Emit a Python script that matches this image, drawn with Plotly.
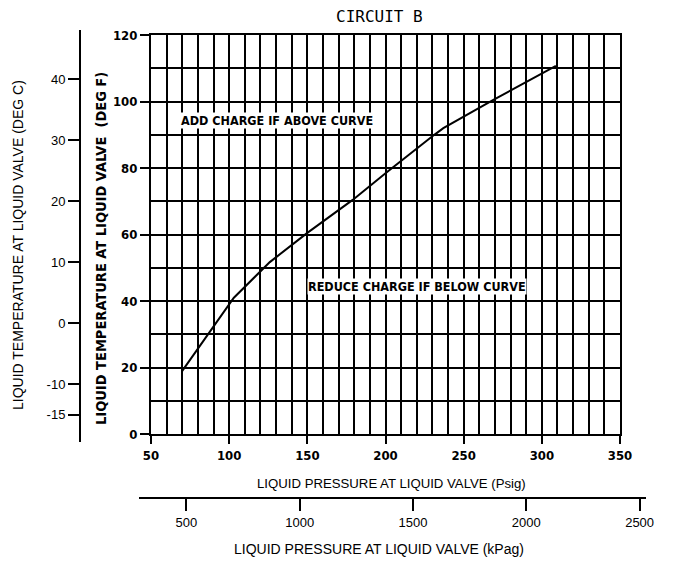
import plotly.graph_objects as go

# ---- data ----
pressure_psig = [70, 103, 126, 150, 179, 201, 231, 237, 269, 309]
temperature_degf = [19, 41, 51.7, 60.5, 70.4, 78.8, 89.9, 92, 100.5, 110.7]

psig_ticks = [50, 100, 150, 200, 250, 300, 350]
degf_ticks = [0, 20, 40, 60, 80, 100, 120]
degc_ticks = [-15, -10, 0, 10, 20, 30, 40]
kpag_ticks = [500, 1000, 1500, 2000, 2500]

title_text = "CIRCUIT B"
above_text = "ADD CHARGE IF ABOVE CURVE"
below_text = "REDUCE CHARGE IF BELOW CURVE"
above_pos = (130.4, 94.4)
below_pos = (220, 44.5)

OFF = 8  # page body margin
W, H = 675 - OFF, 564 - OFF
def fx(px):
    return (px - OFF) / W
def fy(py):
    return 1 - (py - OFF) / H

bold_font = "DejaVu Sans Condensed, Liberation Sans Narrow, DejaVu Sans"
plain_font = "Liberation Sans, Arial"

fig = go.Figure()
fig.add_trace(go.Scatter(x=pressure_psig, y=temperature_degf, mode="lines",
                         line=dict(color="black", width=2), showlegend=False,
                         hoverinfo="skip"))
# anchor traces for the secondary scales (paired with hidden helper axes)
fig.add_trace(go.Scatter(x=[None], y=[None], xaxis="x3", yaxis="y2", showlegend=False,
                         hoverinfo="skip"))
fig.add_trace(go.Scatter(x=[None], y=[None], xaxis="x2", yaxis="y3", showlegend=False,
                         hoverinfo="skip"))

fig.update_layout(
    width=W, height=H,
    margin=dict(l=0, r=0, t=0, b=0, pad=0, autoexpand=False),
    paper_bgcolor="white", plot_bgcolor="rgba(0,0,0,0)",
    showlegend=False,
    xaxis=dict(
        domain=[fx(151), fx(620)], range=[50, 350],
        tickmode="array", tickvals=psig_ticks, ticktext=[str(v) for v in psig_ticks],
        ticks="outside", ticklen=8, tickwidth=2, tickcolor="black",
        showgrid=True, gridcolor="black", gridwidth=2,
        minor=dict(tick0=50, dtick=10, showgrid=True, gridcolor="black", gridwidth=2),
        showline=True, linecolor="black", linewidth=2, mirror=True,
        tickfont=dict(family=bold_font, size=13, color="black", weight="bold"),
        zeroline=False, anchor="y", automargin=False,
    ),
    yaxis=dict(
        domain=[fy(434), fy(35)], range=[0, 120],
        tickmode="array", tickvals=degf_ticks, ticktext=[str(v) for v in degf_ticks],
        ticks="outside", ticklen=9, tickwidth=2, tickcolor="black",
        showgrid=True, gridcolor="black", gridwidth=2,
        minor=dict(tick0=0, dtick=10, showgrid=True, gridcolor="black", gridwidth=2),
        showline=True, linecolor="black", linewidth=2, mirror=True,
        tickfont=dict(family=bold_font, size=13, color="black", weight="bold"),
        zeroline=False, anchor="x", automargin=False,
    ),
    yaxis2=dict(
        domain=[fy(442), fy(30)], range=[(323 - 442) / 6.1, (323 - 30) / 6.1],
        anchor="free", position=fx(80), side="left",
        tickmode="array", tickvals=degc_ticks, ticktext=[str(v) for v in degc_ticks],
        ticks="outside", ticklen=11, tickwidth=2, tickcolor="black",
        showline=True, linecolor="black", linewidth=2,
        showgrid=False, zeroline=False, automargin=False,
        tickfont=dict(family=plain_font, size=13, color="black"),
    ),
    xaxis3=dict(domain=[fx(60), fx(80)], range=[0, 1], visible=False, anchor="y2"),
    xaxis2=dict(
        domain=[fx(139), fx(646)], range=[(139 - 73.1) / 0.2266, (646 - 73.1) / 0.2266],
        anchor="free", position=fy(498), side="bottom",
        tickmode="array", tickvals=kpag_ticks, ticktext=[str(v) for v in kpag_ticks],
        ticks="outside", ticklen=12, tickwidth=2, tickcolor="black",
        showline=True, linecolor="black", linewidth=2,
        showgrid=False, zeroline=False, automargin=False,
        tickfont=dict(family=plain_font, size=13, color="black"),
    ),
    yaxis3=dict(domain=[fy(520), fy(498)], range=[0, 1], visible=False, anchor="x2"),
)

def pann(text, px, py, font, angle=0, **kw):
    d = dict(text=text, xref="paper", yref="paper", x=fx(px), y=fy(py),
             xanchor="center", yanchor="middle", textangle=angle,
             showarrow=False, font=font)
    d.update(kw)
    return d

ann = []
ann.append(pann(title_text, 379, 16, dict(family="DejaVu Sans Mono", size=16, color="black"),
                height=14, borderpad=0))
ann.append(pann("LIQUID TEMPERATURE AT LIQUID VALVE (DEG C)", 18, 245,
                dict(family=plain_font, size=14, color="black"), -90))
ann.append(pann("LIQUID TEMPERATURE AT LIQUID VALVE  (DEG F)", 101, 249,
                dict(family=bold_font, size=14.5, color="black", weight="bold"), -90))
ann.append(pann("LIQUID PRESSURE AT LIQUID VALVE (Psig)", 392, 483,
                dict(family=plain_font, size=13.2, color="black")))
ann.append(pann("LIQUID PRESSURE AT LIQUID VALVE (kPag)", 379, 549,
                dict(family=plain_font, size=14, color="black")))
ann.append(dict(text=above_text, x=above_pos[0], y=above_pos[1], xref="x", yref="y",
                xanchor="center", yanchor="middle",
                showarrow=False, bgcolor="white", borderpad=0,
                font=dict(family=bold_font, size=12.5, color="black", weight="bold")))
ann.append(dict(text=below_text, x=below_pos[0], y=below_pos[1], xref="x", yref="y",
                xanchor="center", yanchor="middle",
                showarrow=False, bgcolor="white", borderpad=0,
                font=dict(family=bold_font, size=12.5, color="black", weight="bold")))
fig.update_layout(annotations=ann)

fig.write_html("out.html")
